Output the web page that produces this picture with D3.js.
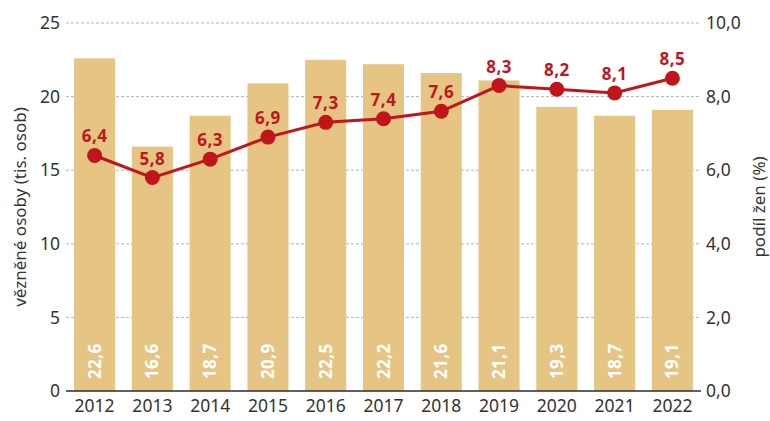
<!DOCTYPE html>
<html>
<head>
<meta charset="utf-8">
<script src="https://cdn.jsdelivr.net/npm/d3@7"></script>
<style>
  body { margin: 0; background: #fff; }
  svg { font-family: "Noto Sans", sans-serif; }
</style>
</head>
<body>
<svg width="770" height="421"></svg>
<script>
const years = ["2012", "2013", "2014", "2015", "2016", "2017", "2018", "2019", "2020", "2021", "2022"];
const prisoners = [22.6, 16.6, 18.7, 20.9, 22.5, 22.2, 21.6, 21.1, 19.3, 18.7, 19.1];
const womenShare = [6.4, 5.8, 6.3, 6.9, 7.3, 7.4, 7.6, 8.3, 8.2, 8.1, 8.5];
const leftTicks = [0, 5, 10, 15, 20, 25];
const rightTicks = [0, 2, 4, 6, 8, 10];

const fmt = v => d3.format(".1f")(v).replace(".", ",");

const svg = d3.select("svg");
const mTop = 23, mBottom = 391, mLeft = 66, mRight = 701;

const x = d3.scaleBand().domain(years).range([mLeft, mRight]).paddingInner(0.29).paddingOuter(0.14);
const yL = d3.scaleLinear().domain([0, 25]).range([mBottom, mTop]);
const yR = d3.scaleLinear().domain([0, 10]).range([mBottom, mTop]);

// grid
svg.append("g")
  .selectAll("line")
  .data(leftTicks.slice(1))
  .join("line")
  .attr("x1", mLeft).attr("x2", mRight)
  .attr("y1", d => yL(d)).attr("y2", d => yL(d))
  .attr("stroke", "#b3b3b3")
  .attr("stroke-dasharray", "3,2");

// bars
svg.append("g")
  .selectAll("rect")
  .data(prisoners)
  .join("rect")
  .attr("x", (d, i) => x(years[i]))
  .attr("y", d => yL(d))
  .attr("width", x.bandwidth())
  .attr("height", d => yL(0) - yL(d))
  .attr("fill", "#e6c483");

svg.append("g")
  .selectAll("text")
  .data(prisoners)
  .join("text")
  .attr("transform", (d, i) => `translate(${x(years[i]) + x.bandwidth() / 2 + 6},${mBottom - 12}) rotate(-90)`)
  .attr("fill", "#fff")
  .attr("font-weight", "bold")
  .attr("font-size", 17)
  .attr("letter-spacing", 0.4)
  .text(d => fmt(d));

// baseline
svg.append("line")
  .attr("x1", mLeft).attr("x2", mRight)
  .attr("y1", mBottom).attr("y2", mBottom)
  .attr("stroke", "#2b2b2b").attr("stroke-width", 1.3);

// left axis
const axL = svg.append("g")
  .attr("transform", `translate(${mLeft},0)`)
  .call(d3.axisLeft(yL).tickValues(leftTicks).tickSize(0).tickPadding(6));
axL.select(".domain").remove();
axL.selectAll("text").attr("font-size", 17.5).attr("fill", "#333").attr("font-family", "Noto Sans");

// right axis
const axR = svg.append("g")
  .attr("transform", `translate(${mRight},0)`)
  .call(d3.axisRight(yR).tickValues(rightTicks).tickFormat(fmt).tickSize(0).tickPadding(5));
axR.select(".domain").remove();
axR.selectAll("text").attr("font-size", 17.5).attr("fill", "#333").attr("font-family", "Noto Sans");

// x axis
const axX = svg.append("g")
  .attr("transform", `translate(0,${mBottom})`)
  .call(d3.axisBottom(x).tickSize(0).tickPadding(9));
axX.select(".domain").remove();
axX.selectAll("text").attr("font-size", 17.5).attr("fill", "#333").attr("font-family", "Noto Sans");

// line
const cx = (d, i) => x(years[i]) + x.bandwidth() / 2;
svg.append("path")
  .datum(womenShare)
  .attr("fill", "none")
  .attr("stroke", "#c0161b")
  .attr("stroke-width", 3)
  .attr("d", d3.line().x(cx).y(d => yR(d)));

svg.append("g")
  .selectAll("circle")
  .data(womenShare)
  .join("circle")
  .attr("cx", cx)
  .attr("cy", d => yR(d))
  .attr("r", 7.5)
  .attr("fill", "#c0161b");

svg.append("g")
  .selectAll("text")
  .data(womenShare)
  .join("text")
  .attr("x", cx)
  .attr("y", d => yR(d) - 13)
  .attr("text-anchor", "middle")
  .attr("fill", "#c0161b")
  .attr("font-weight", "bold")
  .attr("font-size", 17)
  .attr("letter-spacing", 0.5)
  .text(d => fmt(d));

// axis titles
svg.append("text")
  .attr("transform", `translate(26,${(mTop + mBottom) / 2}) rotate(-90)`)
  .attr("text-anchor", "middle")
  .attr("font-size", 17)
  .attr("fill", "#333")
  .text("vězněné osoby (tis. osob)");

svg.append("text")
  .attr("transform", `translate(765,${(mTop + mBottom) / 2}) rotate(-90)`)
  .attr("text-anchor", "middle")
  .attr("font-size", 17)
  .attr("fill", "#333")
  .text("podíl žen (%)");
</script>
</body>
</html>
